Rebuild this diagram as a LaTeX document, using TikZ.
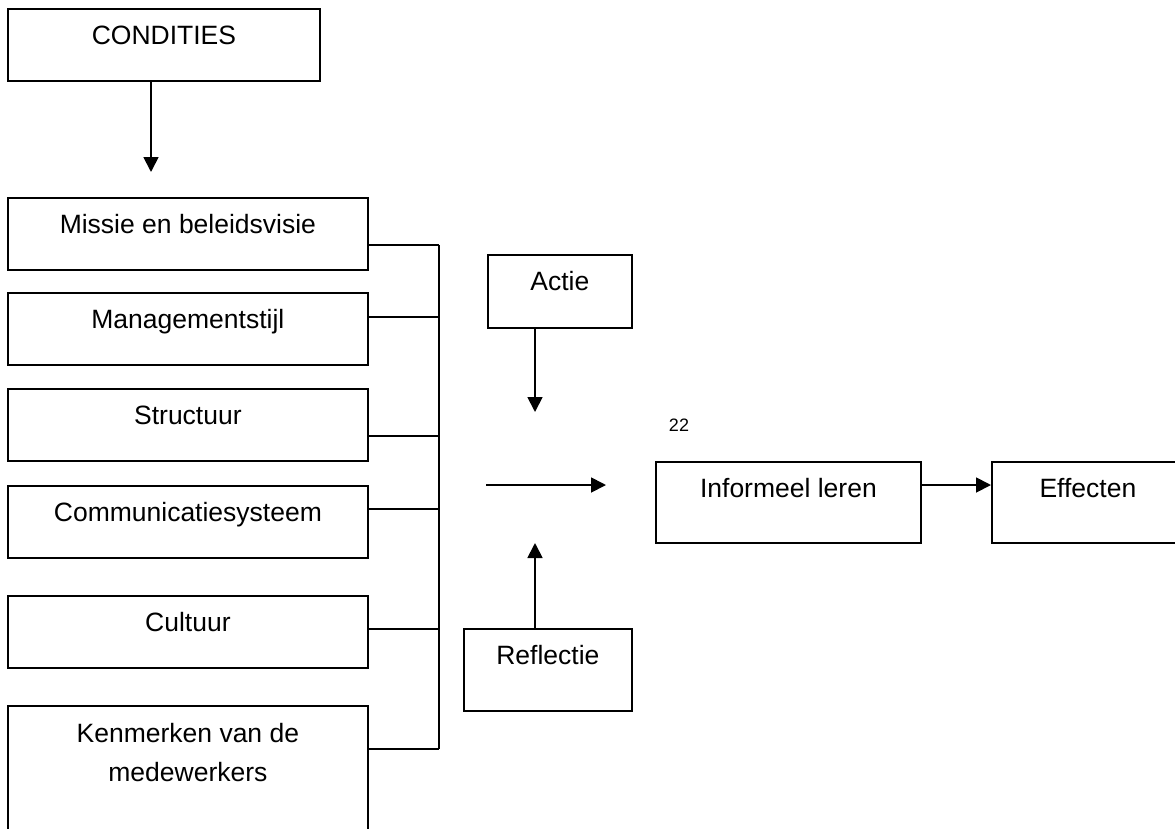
\documentclass[tikz,border=0pt]{standalone}
\usepackage{fontspec}
\setmainfont{Liberation Sans}
\usetikzlibrary{arrows.meta}

\begin{document}
\begin{tikzpicture}[x=1pt, y=-1pt,
every edge/.style = {draw, -{Triangle[length=15pt, width=15pt]}, line width=1.8pt, black},
       box/.style = {draw, line width=1.8pt, inner sep=0pt, anchor=north west,
                     minimum width=360pt, text height=36pt, text depth=#1, align=center,
                     font=\fontsize{26.5}{39}\selectfont},
     box/.default = 36pt,
      wire/.style = {line width=1.8pt}
                    ]
\useasboundingbox (0,0) rectangle (1175,828);

\node (cond) [box, minimum width=312pt] at (7,8) {CONDITIES};
\foreach \n/\y/\t in {missie/197/Missie en beleidsvisie, mgmt/292/Managementstijl,
                      struc/388/Structuur, comm/485/Communicatiesysteem, cult/595/Cultuur}
  \node (\n) [box] at (7,\y) {\t};
\node (kenm) [box=64pt, text height=76pt] at (7,705) {Kenmerken van de\\ medewerkers};

\node (actie)  [box=37pt, minimum width=144pt] at (487,254) {Actie};
\node (refl)   [box=46pt, minimum width=168pt] at (463,628) {Reflectie};
\node (inform) [box=45pt, minimum width=265pt] at (655,461) {Informeel leren};
\node (eff)    [box=45pt, minimum width=192pt] at (991,461) {Effecten};
\node (nr) [font=\fontsize{18}{22}\selectfont] at (679,425) {22};

\coordinate (busT) at (439,245);
\coordinate (busB) at (439,749);
\coordinate (tipC) at (151,172);
\coordinate (tipA) at (535,412);
\coordinate (tipR) at (535,543);
\coordinate (midL) at (486,485);
\coordinate (midR) at (606,485);

\draw   (tipC |- cond.south)  edge (tipC)
        (tipA |- actie.south) edge (tipA)
        (tipR |- refl.north)  edge (tipR)
        (midL) edge (midR)
        (inform.east |- midR) edge (eff.west |- midR);
\draw[wire] (busT) -- (busB);
\foreach \b/\y in {missie/245, mgmt/317, struc/436, comm/509, cult/629, kenm/749}
  \draw[wire] (\b.east |- 0,\y) -- (busT |- 0,\y);
\end{tikzpicture}
\end{document}
